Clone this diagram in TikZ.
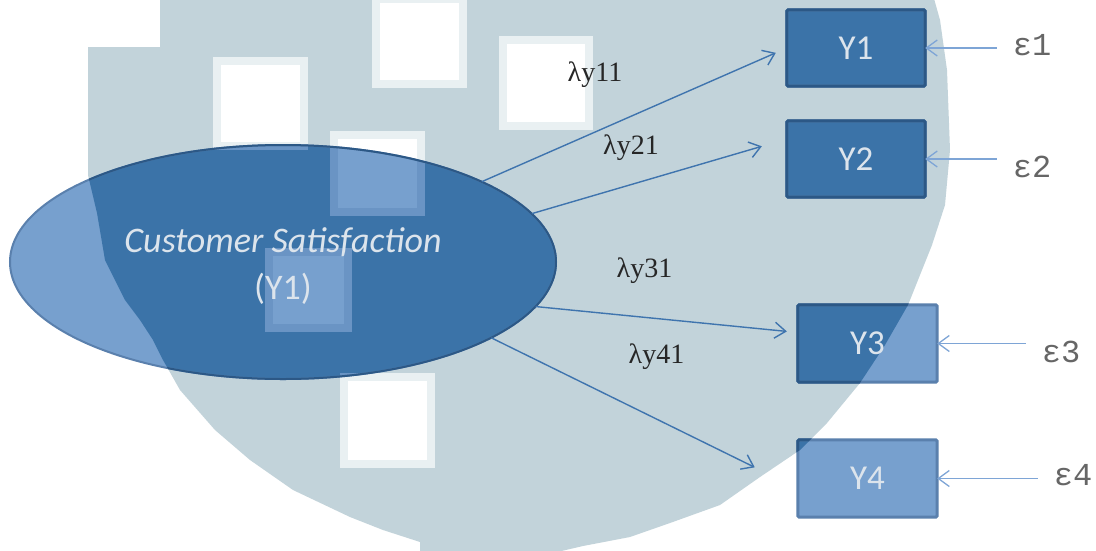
\documentclass[tikz,border=0pt]{standalone}
\usepackage{fontspec}
\setmainfont{Liberation Serif}
\newfontfamily\calfont{Carlito}
\newfontfamily\monofont{Liberation Mono}
\usetikzlibrary{arrows.meta,shapes.geometric}

\definecolor{bggrey}{HTML}{C2D3DA}
\definecolor{softring}{HTML}{E9F0F2}
\definecolor{deepblue}{HTML}{3B73A8}
\definecolor{paleblue}{HTML}{77A0CE}
\definecolor{midring}{HTML}{6A94C4}
\definecolor{deepedge}{HTML}{2C5886}
\definecolor{paleedge}{HTML}{5A80AD}
\definecolor{linkblue}{HTML}{3F74AE}
\definecolor{errblue}{HTML}{7EA5D6}
\definecolor{errgrey}{HTML}{666666}
\definecolor{labeltext}{HTML}{DCE4EC}

\pgfdeclarelayer{backdrop}
\pgfdeclarelayer{shading}
\pgfsetlayers{backdrop,shading,main}

% outline of the large grey backdrop shape
\newcommand\greyregion{(160,-5) -- (933,-5) -- (940,20) -- (947,70) -- (950,150) -- (945,205)
  -- (932,245) -- (918,280) -- (908,305) -- (885,345) -- (860,383) -- (827,423) -- (800,450)
  -- (760,477) -- (720,505) -- (670,523) -- (630,537) -- (583,546) -- (540,556) -- (420,556)
  -- (420,542) -- (383,530) -- (350,517) -- (293,490) -- (250,460) -- (215,430) -- (180,390)
  -- (163,360) -- (153,340) -- (140,320) -- (125,300) -- (115,280) -- (105,260) -- (97,213)
  -- (88,175) -- (88,47) -- (160,47) -- cycle}
% ellipse outline used for fills and clipping
\newcommand\latentoutline{(283,262) ellipse [x radius=273, y radius=117]}
% white square with a soft rim
\newcommand\softsquare[4]{%
  \fill[softring] (#1,#2) rectangle (#3,#4);
  \fill[white] (#1+8,#2+8) rectangle (#3-8,#4-8);}
% the same square seen through the ellipse
\newcommand\palesquare[4]{%
  \fill[midring] (#1,#2) rectangle (#3,#4);
  \fill[paleblue] (#1+8,#2+8) rectangle (#3-8,#4-8);}

\begin{document}
\begin{tikzpicture}[x=1pt,y=-1pt,
  every node/.style={inner sep=0pt},
  latent/.style={ellipse, minimum width=546pt, minimum height=234pt},
  latent text/.style={text=labeltext, font=\calfont\fontsize{36}{47}\selectfont, align=center},
  indicator/.style={rectangle, minimum width=138pt, minimum height=76pt, text=labeltext,
    font=\calfont\fontsize{35}{42}\selectfont},
  loading/.style={font=\fontsize{28}{30}\selectfont, text=black!85},
  errterm/.style={font=\monofont\fontsize{32}{36}\selectfont, text=errgrey},
  path arrow/.style={draw=linkblue, line width=1.4pt, -{Straight Barb[length=11pt,width=16pt]}},
  err arrow/.style={draw=errblue, line width=1.3pt, -{Straight Barb[length=11pt,width=16pt]}},
]
\useasboundingbox (0,0) rectangle (1096,550);

% latent variable and its indicators
\node[latent] (cs) at (283,262) {};
\node[latent text] (cstext) at (283,266) {{\itshape Customer Satisfaction}\\(Y1)};
\node[indicator] (y1) at (856,48) {Y1};
\node[indicator] (y2) at (856,159) {Y2};
\node[indicator, minimum width=139pt, minimum height=77pt] (y3) at (867.5,343.5) {Y3};
\node[indicator, minimum width=139pt, minimum height=77pt] (y4) at (867.5,478.5) {Y4};

% error terms
\node[errterm] (e1) at (1032,45) {ε1};
\node[errterm] (e2) at (1032,167) {ε2};
\node[errterm] (e3) at (1061,352) {ε3};
\node[errterm] (e4) at (1073,475) {ε4};

% loadings
\node[loading] (l1) at (595,75) {λy11};
\node[loading] (l2) at (631,148) {λy21};
\node[loading] (l3) at (644.5,271) {λy31};
\node[loading] (l4) at (656.5,357) {λy41};

% paths from the latent variable
\draw[path arrow, shorten >=12pt] (cs.22.9) -- (y1.west);
\draw[path arrow, shorten >=26pt] (cs.11.7) -- ([yshift=20pt]y2.west);
\draw[path arrow, shorten >=11pt] (cs.350.5) -- ([yshift=11pt]y3.west);
\draw[path arrow, shorten >=48pt] (cs.340.7) -- ([yshift=-10pt]y4.west);

% error arrows
\draw[err arrow, shorten <=16pt] (y1.east -| e1.west) -- (y1.east);
\draw[err arrow, shorten <=16pt] (y2.east -| e2.west) -- (y2.east);
\draw[err arrow, shorten <=16pt] (y3.east -| e3.west) -- (y3.east);
\draw[err arrow, shorten <=16pt] (y4.east -| e4.west) -- (y4.east);

% translucent-looking fills of the ellipse and boxes
\begin{pgfonlayer}{shading}
  \fill[paleblue] \latentoutline;
  \foreach \b in {y1,y2,y3,y4}
    \fill[paleblue] (\b.north west) rectangle (\b.south east);
  \begin{scope}
    \clip \greyregion;
    \fill[deepblue] \latentoutline;
    \foreach \b in {y1,y2,y3,y4}
      \fill[deepblue] (\b.north west) rectangle (\b.south east);
  \end{scope}
  \begin{scope}
    \clip \latentoutline;
    \palesquare{213}{57}{308}{150}
    \palesquare{330}{131}{425}{216}
    \palesquare{265}{248}{352}{332}
    \palesquare{340}{373}{435}{468}
  \end{scope}
  \draw[paleedge, line width=2pt] \latentoutline;
  \foreach \b in {y1,y2,y3,y4}
    \draw[paleedge, line width=3pt, rounded corners=1.5pt] (\b.north west) rectangle (\b.south east);
  \begin{scope}
    \clip \greyregion;
    \draw[deepedge, line width=2pt] \latentoutline;
    \foreach \b in {y1,y2,y3,y4}
      \draw[deepedge, line width=3pt, rounded corners=1.5pt] (\b.north west) rectangle (\b.south east);
  \end{scope}
\end{pgfonlayer}

% backdrop: grey shape with white squares
\begin{pgfonlayer}{backdrop}
  \fill[white] (0,0) rectangle (1096,550);
  \fill[bggrey] \greyregion;
  \softsquare{213}{57}{308}{150}
  \softsquare{372}{-5}{467}{88}
  \softsquare{499}{36}{593}{130}
  \softsquare{330}{131}{425}{216}
  \softsquare{265}{248}{352}{332}
  \softsquare{340}{373}{435}{468}
\end{pgfonlayer}
\end{tikzpicture}
\end{document}
